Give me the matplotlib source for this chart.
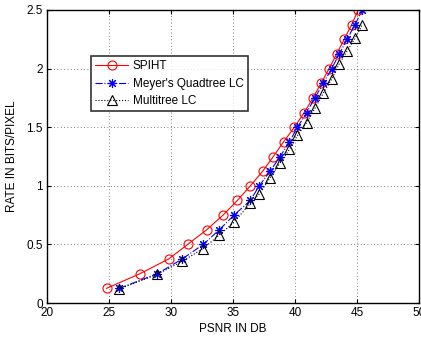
import matplotlib
matplotlib.use("Agg")
import matplotlib.pyplot as plt

plt.rcParams['font.family'] = ['Liberation Sans', 'DejaVu Sans']

spiht_psnr = [24.8, 27.5, 29.8, 31.35, 32.88, 34.2, 35.35, 36.4, 37.4, 38.25,
              39.08, 39.95, 40.75, 41.45, 42.1, 42.75, 43.36, 43.97, 44.57, 45.1]
spiht_rate = [0.125, 0.25, 0.375, 0.5, 0.625, 0.75, 0.875, 1.0, 1.125, 1.25,
              1.375, 1.5, 1.625, 1.75, 1.875, 2.0, 2.125, 2.25, 2.375, 2.5]

meyer_psnr = [25.83, 28.9, 30.9, 32.6, 33.9, 35.08, 36.4, 37.12, 38.0, 38.8,
              39.55, 40.2, 40.94, 41.6, 42.28, 42.96, 43.57, 44.2, 44.84, 45.43]
meyer_rate = [0.125, 0.25, 0.375, 0.5, 0.625, 0.75, 0.875, 1.0, 1.125, 1.25,
              1.375, 1.5, 1.625, 1.75, 1.875, 2.0, 2.125, 2.25, 2.375, 2.5]

multi_psnr = meyer_psnr
multi_rate = [0.12, 0.245, 0.355, 0.465, 0.58, 0.69, 0.85, 0.93, 1.07, 1.195,
              1.31, 1.43, 1.54, 1.66, 1.79, 1.91, 2.04, 2.15, 2.257, 2.375]

xticks = [20, 25, 30, 35, 40, 45, 50]
yticks = [0, 0.5, 1, 1.5, 2, 2.5]
yticklabels = ['0', '0.5', '1', '1.5', '2', '2.5']

fig = plt.figure(figsize=(4.21, 3.41), dpi=100)
ax = fig.add_axes([47/421, 38/341, 372/421, 293/341])

ax.plot(spiht_psnr, spiht_rate, color='red', linestyle='-', linewidth=0.8,
        marker='o', markersize=6.5, markerfacecolor='none', markeredgecolor='red',
        markeredgewidth=0.8, label='SPIHT')
ax.plot(meyer_psnr, meyer_rate, color='blue', linestyle='-.', linewidth=0.8,
        marker=(8, 2, 0), markersize=6.5, markeredgecolor='blue',
        markeredgewidth=0.8, label="Meyer's Quadtree LC")
ax.plot(multi_psnr, multi_rate, color='black', linestyle=':', linewidth=0.8,
        marker='^', markersize=6.5, markerfacecolor='none', markeredgecolor='black',
        markeredgewidth=0.8, label='Multitree LC')

ax.set_xlim(20, 50)
ax.set_ylim(0, 2.5)
ax.set_xticks(xticks)
ax.set_xticklabels([str(v) for v in xticks])
ax.set_yticks(yticks)
ax.set_yticklabels(yticklabels)
ax.tick_params(direction='in', labelsize=8.5, length=3, top=True, right=True,
               pad=3)
ax.grid(True, linestyle=(0, (1, 3)), color='#555555', linewidth=0.6)
for s in ax.spines.values():
    s.set_linewidth(1.0)

ax.set_xlabel('PSNR IN DB', fontsize=8.5, labelpad=3)
ax.set_ylabel('RATE IN BITS/PIXEL', fontsize=8.5, labelpad=6)

leg = ax.legend(loc='upper left', bbox_to_anchor=(0.118, 0.842), fontsize=8.5,
                frameon=True, fancybox=False, edgecolor='black',
                borderpad=0.35, labelspacing=0.45, handlelength=2.8,
                handletextpad=0.4, borderaxespad=0)
leg.get_frame().set_linewidth(1.2)

fig.savefig('out.png', dpi=100)
